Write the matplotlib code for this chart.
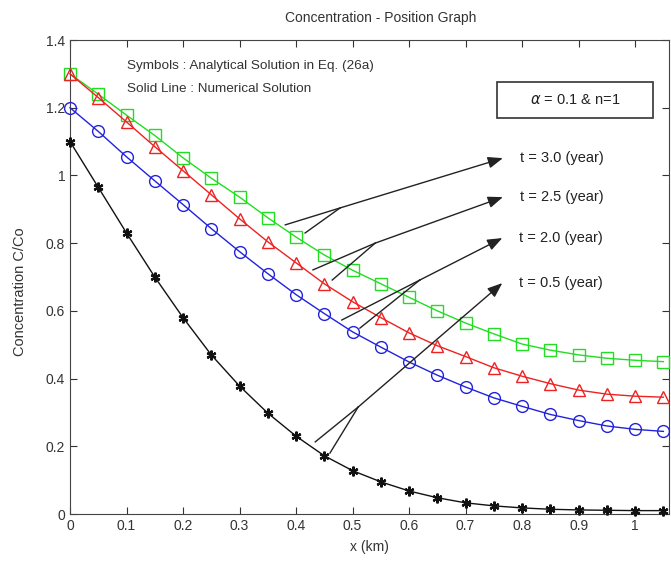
import numpy as np
import matplotlib
matplotlib.use('Agg')
import matplotlib.pyplot as plt
from matplotlib.patches import Rectangle

plt.rcParams['font.family'] = ['Liberation Sans', 'DejaVu Sans']

# x positions (km)
x_km = [0.00, 0.05, 0.10, 0.15, 0.20, 0.25, 0.30, 0.35, 0.40, 0.45, 0.50,
        0.55, 0.60, 0.65, 0.70, 0.75, 0.80, 0.85, 0.90, 0.95, 1.00, 1.05]

# C/Co
c_t30 = [1.300, 1.240, 1.178, 1.118, 1.052, 0.992, 0.936, 0.875, 0.818, 0.765,
         0.720, 0.680, 0.640, 0.600, 0.564, 0.532, 0.502, 0.484, 0.470, 0.460,
         0.454, 0.450]
c_t25 = [1.300, 1.230, 1.158, 1.085, 1.014, 0.943, 0.872, 0.804, 0.742, 0.680,
         0.627, 0.580, 0.535, 0.497, 0.465, 0.432, 0.407, 0.385, 0.366, 0.354,
         0.348, 0.345]
c_t20 = [1.200, 1.130, 1.055, 0.984, 0.914, 0.843, 0.775, 0.710, 0.648, 0.592,
         0.538, 0.493, 0.449, 0.410, 0.375, 0.343, 0.318, 0.294, 0.276, 0.260,
         0.250, 0.244]
c_t05 = [1.100, 0.965, 0.830, 0.700, 0.580, 0.470, 0.378, 0.298, 0.230, 0.172,
         0.128, 0.095, 0.068, 0.048, 0.033, 0.024, 0.018, 0.014, 0.012, 0.011,
         0.010, 0.010]

series = [
    (c_t30, '#22dd22', 's', 8.5, 1.0),
    (c_t25, '#ee2222', '^', 9, 1.0),
    (c_t20, '#2222dd', 'o', 8.5, 1.0),
    (c_t05, '#111111', (6, 2, 0), 7, 1.6),
]

# annotation labels: text, head, junction, two tails (data coords)
labels = ['t = 3.0 (year)', 't = 2.5 (year)', 't = 2.0 (year)', 't = 0.5 (year)']
heads = [(0.766, 1.051), (0.766, 0.936), (0.765, 0.815), (0.765, 0.682)]
junctions = [(0.478, 0.904), (0.540, 0.800), (0.619, 0.691), (0.510, 0.316)]
tails = [
    [(0.381, 0.854), (0.416, 0.830)],
    [(0.430, 0.721), (0.464, 0.691)],
    [(0.481, 0.573), (0.513, 0.549)],
    [(0.434, 0.213), (0.460, 0.180)],
]

fig = plt.figure(figsize=(6.71, 5.61), dpi=100)
ax = fig.add_axes([70 / 671, 47 / 561, 599 / 671, 474 / 561])

for vals, col, mk, ms, mw in series:
    ax.plot(x_km, vals, color=col, lw=1.0, marker=mk, ms=ms,
            mfc='none', mec=col, mew=mw, clip_on=False, zorder=3)

for lab, hd, jn, tl in zip(labels, heads, junctions, tails):
    for t in tl:
        ax.plot([t[0], jn[0]], [t[1], jn[1]], color='#222222', lw=1.0, zorder=4)
    ax.annotate('', xy=hd, xytext=jn,
                arrowprops=dict(arrowstyle='-|>,head_length=0.9,head_width=0.35',
                                color='#222222', lw=1.0, shrinkA=0, shrinkB=0),
                zorder=4)
    ax.text(hd[0] + 0.03, hd[1], lab, fontsize=10.5, va='center', ha='left',
            color='#222222')

ax.text(0.101, 1.323, 'Symbols : Analytical Solution in Eq. (26a)', fontsize=9.7,
        va='center', ha='left', color='#333333')
ax.text(0.101, 1.255, 'Solid Line : Numerical Solution', fontsize=9.7,
        va='center', ha='left', color='#333333')
ax.add_patch(Rectangle((0.756, 1.170), 0.276, 0.106, fill=False, ec='#333333',
                       lw=1.2, zorder=5))
ax.text(0.894, 1.222, r'$\alpha$ = 0.1 & n=1', fontsize=10.5, va='center',
        ha='center', color='#222222', zorder=5)

ax.set_xlim(0, 1.06)
ax.set_ylim(0, 1.4)
ax.set_xticks(np.arange(0, 1.01, 0.1))
ax.set_xticklabels(['0', '0.1', '0.2', '0.3', '0.4', '0.5', '0.6', '0.7', '0.8', '0.9', '1'])
ax.set_yticks([0, 0.2, 0.4, 0.6, 0.8, 1.0, 1.2, 1.4])
ax.set_yticklabels(['0', '0.2', '0.4', '0.6', '0.8', '1', '1.2', '1.4'])
ax.tick_params(direction='in', top=True, right=True, length=5, labelsize=10,
               colors='#333333')
for sp in ax.spines.values():
    sp.set_color('#444444')

ax.set_title('Concentration - Position Graph', fontsize=10, color='#333333',
             x=0.518, pad=13)
ax.set_xlabel('x (km)', fontsize=10, color='#333333', labelpad=5)
ax.set_ylabel('Concentration C/Co', fontsize=10.5, color='#333333')
ax.yaxis.set_label_coords(-0.072, 0.47)

fig.savefig('out.png', dpi=100)
